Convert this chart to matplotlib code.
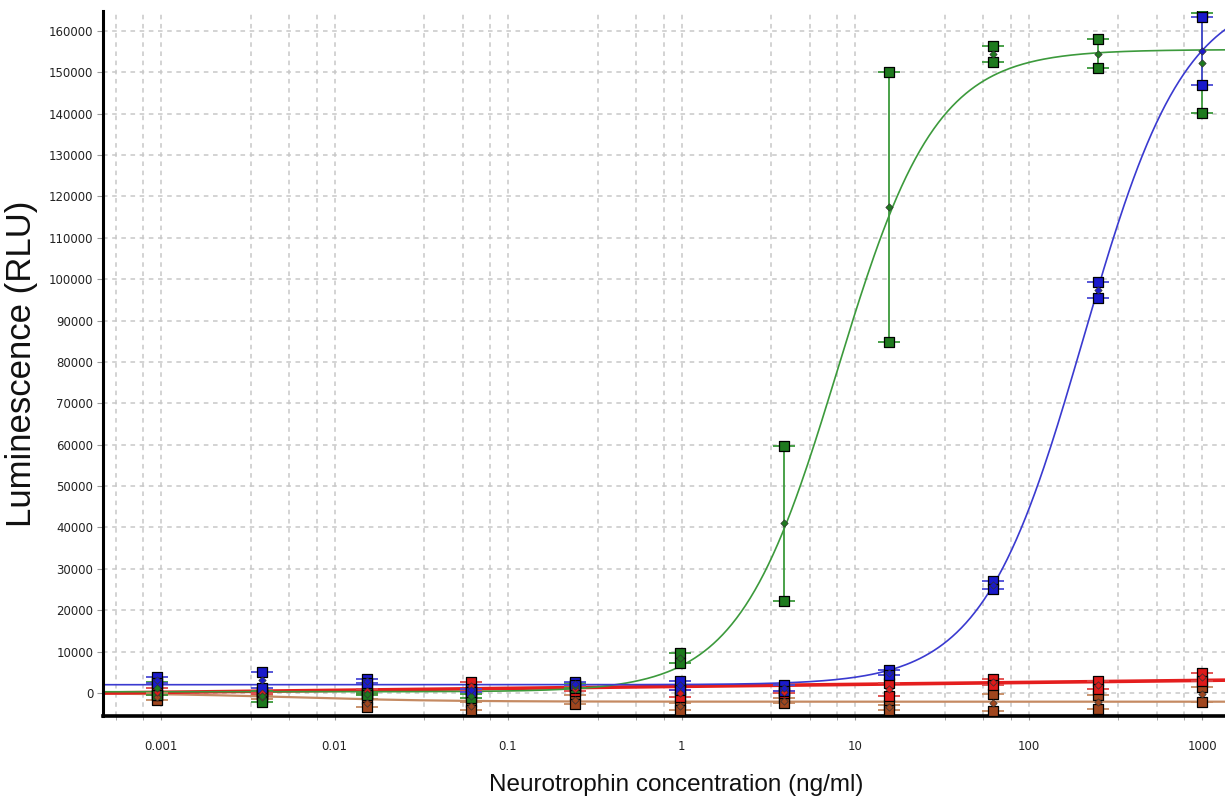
import numpy as np
import matplotlib
matplotlib.use("Agg")
import matplotlib.pyplot as plt

# dilution series (ng/ml), 4-fold steps
conc = [0.000954, 0.00381, 0.0153, 0.061, 0.244, 0.977, 3.91, 15.6, 62.5, 250.0, 1000.0]

# duplicate wells (RLU)
green_a = [2650, 500, 0, -300, 2400, 9750, 59800, 150200, 156400, 158000, 164250]
green_b = [-400, -2100, -500, -1200, 1200, 7200, 22200, 84800, 152600, 151000, 140200]
blue_a = [3950, 5000, 3400, 1000, 2600, 3000, 2000, 5500, 27100, 99300, 163450]
blue_b = [2400, 1200, 2400, 300, 1900, 800, 500, 4400, 25100, 95500, 146950]
red_a = [1200, 200, 1000, 2700, 1500, 700, 500, 2400, 3500, 2800, 4800]
red_b = [-500, -300, -200, 500, 500, -900, 0, -700, 2000, 1000, 2800]
brown_a = [0, -600, -1450, -2100, -500, -2500, -1200, -2900, -300, -500, 1500]
brown_b = [-1700, -1500, -3300, -4100, -2650, -4000, -2500, -4000, -4400, -3800, -2100]

# 4PL fit parameters: bottom, top, EC50, hill
green_fit = (300, 155500, 7.9, 1.53)
blue_fit = (2000, 170000, 208.0, 1.49)
brown_fit = (0, -2100, 0.006, 1.0)
# red is fitted as a straight line in log10(conc): value at 1 ng/ml, slope per decade
red_fit = (1600, 480)

xticks = [0.001, 0.01, 0.1, 1, 10, 100, 1000]
xticklabels = ["0.001", "0.01", "0.1", "1", "10", "100", "1000"]
yticks = list(range(0, 160001, 10000))


def four_pl(x, bottom, top, ec50, hill):
    return bottom + (top - bottom) / (1 + (ec50 / x) ** hill)


fig = plt.figure(figsize=(12.25, 7.98), dpi=100)
ax = fig.add_axes([103 / 1225, 1 - 716 / 798, 1 - 103 / 1225, (716 - 11) / 798])

ax.set_xscale("log")
ax.set_xlim(4.63e-4, 1357)
ax.set_ylim(-5560, 164830)

xs = np.logspace(-3.4, 3.2, 500)

series = [
    ("brown", brown_a, brown_b, "#a0461e", "#c58a62"),
    ("red", red_a, red_b, "#dd1a1a", "#e04848"),
    ("green", green_a, green_b, "#1e7a1e", "#3c9a3c"),
    ("blue", blue_a, blue_b, "#1a1acc", "#4a4ad6"),
]

# fitted curves
ax.plot(xs, four_pl(xs, *brown_fit), color="#c58a62", lw=1.6, zorder=2)
ax.plot(xs, red_fit[0] + red_fit[1] * np.log10(xs), color="#e41e1e", lw=2.6, zorder=2)
ax.plot(xs, four_pl(xs, *green_fit), color="#3c9a3c", lw=1.2, zorder=2)
ax.plot(xs, four_pl(xs, *blue_fit), color="#3a3ad0", lw=1.2, zorder=2)

for name, a, b, fc, cc in series:
    a = np.array(a, dtype=float)
    b = np.array(b, dtype=float)
    mid = (a + b) / 2
    half = np.abs(a - b) / 2
    ax.errorbar(conc, mid, yerr=half, fmt="none", ecolor=cc, elinewidth=1.3,
                capsize=8, capthick=1.3, zorder=3)
    ax.scatter(conc, a, marker="s", s=42, facecolor=fc, edgecolor="black",
               linewidths=0.9, zorder=4)
    ax.scatter(conc, b, marker="s", s=42, facecolor=fc, edgecolor="black",
               linewidths=0.9, zorder=4)
    ax.scatter(conc, mid, marker="D", s=14, facecolor=fc, edgecolor="#333333",
               linewidths=0.5, zorder=5)

# axes styling
for side in ("top", "right"):
    ax.spines[side].set_visible(False)
ax.spines["left"].set_linewidth(2.2)
ax.spines["bottom"].set_linewidth(2.6)

ax.set_xticks(xticks)
ax.set_xticklabels(xticklabels)
minor = [d * s for d in [0.0001, 0.001, 0.01, 0.1, 1, 10, 100, 1000] for s in (3.3, 5.5, 7.9)]
ax.set_xticks([m for m in minor if 4.63e-4 < m < 1357], minor=True)
ax.xaxis.set_minor_formatter(plt.NullFormatter())
ax.set_yticks(yticks)
ax.set_yticklabels([str(v) for v in yticks])

ax.tick_params(axis="both", which="both", direction="out", color="#999999",
               labelsize=8.5, labelcolor="#222222")
ax.tick_params(axis="y", length=4, pad=3)
ax.tick_params(axis="x", which="major", length=3, pad=14)
ax.tick_params(axis="x", which="minor", length=3)

ax.grid(True, which="both", color="#c8c8c8", linestyle=(0, (3, 3)), linewidth=1.1)
ax.set_axisbelow(True)

ax.set_ylabel("Luminescence (RLU)", family=["Liberation Sans", "DejaVu Sans"],
              fontsize=25, color="#111111")
ax.yaxis.set_label_coords(-(103 - 22) / 1122, 0.5)
ax.yaxis.label.set_va("center")

ax.set_xlabel("Neurotrophin concentration (ng/ml)",
              family=["Liberation Sans", "DejaVu Sans"],
              fontsize=17.5, color="#111111")
ax.xaxis.set_label_coords((676 - 103) / 1122, -(785 - 716) / 705)
ax.xaxis.label.set_va("center")

fig.savefig("out.png", dpi=100, facecolor="white")
